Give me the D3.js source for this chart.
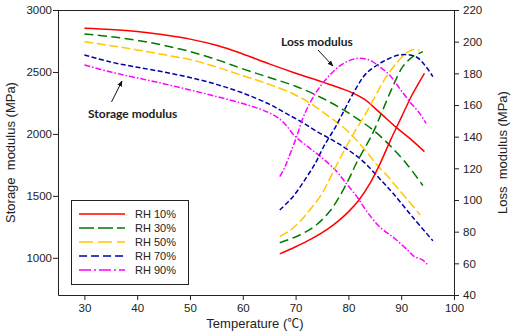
<!DOCTYPE html>
<html>
<head>
<meta charset="utf-8">
<script src="https://cdn.jsdelivr.net/npm/d3@7"></script>
<style>
  html, body { margin: 0; padding: 0; background: #fff; }
  svg { display: block; }
  .tick text { font-family: "Liberation Sans", Arial, sans-serif; font-size: 11.5px; fill: #222; }
  .axis-title { font-family: "Liberation Sans", Arial, sans-serif; font-size: 13px; fill: #222; }
  .note { font-family: Lato, "Open Sans", sans-serif; font-size: 12px; font-weight: 700; fill: #222; }
  .legend-text { font-family: "Liberation Sans", Arial, sans-serif; font-size: 11px; fill: #222; }
</style>
</head>
<body>
<script>
// Temperature axis and the two modulus axes
const xTicks = [30, 40, 50, 60, 70, 80, 90, 100];
const storageTicks = [1000, 1500, 2000, 2500, 3000];
const lossTicks = [40, 60, 80, 100, 120, 140, 160, 180, 200, 220];

const humidity = ["RH 10%", "RH 30%", "RH 50%", "RH 70%", "RH 90%"];

// Storage modulus (MPa) vs temperature (°C)
const storageRH10 = [[30,2852],[35,2842],[40,2826],[45,2800],[50,2765],[55,2715],[60,2645],[65,2565],[70,2490],[75,2420],[80,2345],[83,2280],[86,2170],[89,2055],[92,1950],[94.4,1857]];
const storageRH30 = [[30,2806],[35,2785],[40,2755],[45,2715],[50,2665],[55,2600],[60,2525],[65,2455],[70,2385],[75,2290],[80,2170],[85,2020],[88,1900],[91,1760],[94.1,1584]];
const storageRH50 = [[30,2744],[35,2712],[40,2678],[45,2640],[50,2600],[55,2540],[60,2470],[65,2400],[70,2314],[73.3,2233],[76,2150],[80,2018],[83.4,1857],[85.5,1745],[87.2,1670],[89.1,1573],[91,1479],[93.6,1346]];
const storageRH70 = [[30,2637],[35,2580],[40,2538],[45,2500],[50,2455],[55,2400],[60,2330],[65,2240],[68,2170],[71,2100],[74,2020],[77,1950],[80,1870],[83,1770],[86,1635],[88.4,1523],[92.1,1332],[96,1138]];
const storageRH90 = [[30,2556],[35,2500],[40,2452],[45,2405],[50,2355],[55,2302],[60,2245],[63,2205],[65.1,2168],[67,2120],[68.3,2065],[69.8,1985],[72.7,1884],[75.2,1800],[77.7,1700],[79.6,1600],[81.5,1500],[83.4,1380],[85.9,1251],[88.7,1158],[91.2,1063],[92.5,1010],[94.1,982],[95,942]];

// Loss modulus (MPa) vs temperature (°C)
const lossRH10 = [[67,66],[70,70.5],[73,75.5],[76,81.5],[78,86.5],[80,92.5],[82,100],[84,110],[86,123],[88,138],[90,152],[92,166],[94.4,180]];
const lossRH30 = [[67,73],[70.8,77.9],[73.9,84.2],[76.4,92.6],[78.3,102.1],[80.2,114],[81.5,123.2],[84.6,142.1],[86.5,156.8],[88.4,171.6],[90.3,184.2],[92.2,190.5],[94.1,193.7]];
const lossRH50 = [[67,77],[69,81],[71,87],[73,95],[75,104],[77,117],[79,130],[81,142],[83,153],[85,165],[87,177],[89,186],[91,193],[92.5,195],[93.5,194.5]];
const lossRH70 = [[67,93.7],[69.5,102.1],[72,114],[73.9,124.2],[75.2,133],[77.7,147],[80.2,163],[81.8,172.5],[83.4,180],[86.5,187.3],[89.7,191.6],[92.8,190.5],[94.7,184.2],[96,177.9]];
const lossRH90 = [[67,114.7],[68,121],[68.6,126],[70.2,140],[71.4,152],[73,163],[74.5,171],[76.5,179],[78.5,185],[80.5,188.5],[82,189.5],[84,188.4],[85.9,184.2],[87.8,178.9],[89.7,170.5],[91.6,162.1],[93.5,154.7],[94.7,148.4]];

const colors = ["#ff0000", "#007a00", "#ffc800", "#0000a8", "#ff00ff"];
const curveDash = [null, "9,4.5", "9,3.5", "5,2.5", "6,2,1.5,2"];
const legendDash = [null, "15,4", "14,5", "8,4", "12,3,2,3"];

const W = 512, H = 334;
const plot = { left: 58, right: 454, top: 10, bottom: 295 };

const svg = d3.select("body").append("svg").attr("width", W).attr("height", H);

const x = d3.scaleLinear().domain([25, 100]).range([plot.left, plot.right]);
const yL = d3.scaleLinear().domain([700, 3000]).range([plot.bottom, plot.top]);
const yR = d3.scaleLinear().domain([40, 220]).range([plot.bottom, plot.top]);

// Axes
const axisColor = "#222";
const fmt = d3.format("d");
function styleAxis(g) {
  g.select(".domain").attr("stroke", axisColor).attr("stroke-width", 1);
  g.selectAll(".tick line").attr("stroke", axisColor);
}

svg.append("g")
  .attr("transform", `translate(0,${plot.bottom})`)
  .call(d3.axisBottom(x).tickValues(xTicks).tickFormat(fmt).tickSize(5).tickSizeOuter(0).tickPadding(4))
  .call(styleAxis);

svg.append("g")
  .attr("transform", `translate(${plot.left},0)`)
  .call(d3.axisLeft(yL).tickValues(storageTicks).tickFormat(fmt).tickSize(5).tickSizeOuter(0).tickPadding(1))
  .call(styleAxis);

svg.append("g")
  .attr("transform", `translate(${plot.right},0)`)
  .call(d3.axisRight(yR).tickValues(lossTicks).tickFormat(fmt).tickSize(5).tickSizeOuter(0).tickPadding(4))
  .call(styleAxis);

// top frame line
svg.append("line")
  .attr("x1", plot.left).attr("x2", plot.right)
  .attr("y1", plot.top + 0.5).attr("y2", plot.top + 0.5)
  .attr("stroke", axisColor).attr("stroke-width", 1);

// Axis titles
svg.append("text").attr("class", "axis-title")
  .attr("text-anchor", "middle")
  .attr("transform", `translate(15,152.5) rotate(-90)`)
  .attr("xml:space", "preserve")
  .text("Storage  modulus (MPa)");

svg.append("text").attr("class", "axis-title")
  .attr("text-anchor", "middle")
  .attr("transform", `translate(507,152.5) rotate(-90)`)
  .attr("xml:space", "preserve")
  .text("Loss  modulus (MPa)");

const xTitle = svg.append("text").attr("class", "axis-title")
  .attr("text-anchor", "middle")
  .attr("x", 255).attr("y", 328);
xTitle.append("tspan").text("Temperature (");
xTitle.append("tspan").style("font-family", "'Noto Sans CJK SC', sans-serif").style("font-size", "12px").text("℃");
xTitle.append("tspan").text(")");

// Curves
const storageSeries = [storageRH10, storageRH30, storageRH50, storageRH70, storageRH90];
const lossSeries = [lossRH10, lossRH30, lossRH50, lossRH70, lossRH90];

const smooth = d3.curveCatmullRom.alpha(0.5);
const lineL = d3.line().x(d => x(d[0])).y(d => yL(d[1])).curve(smooth);
const lineR = d3.line().x(d => x(d[0])).y(d => yR(d[1])).curve(smooth);

const curves = svg.append("g").attr("fill", "none").attr("stroke-width", 1.5);
storageSeries.forEach((s, i) => {
  curves.append("path").attr("d", lineL(s))
    .attr("stroke", colors[i]).attr("stroke-dasharray", curveDash[i]);
});
lossSeries.forEach((s, i) => {
  curves.append("path").attr("d", lineR(s))
    .attr("stroke", colors[i]).attr("stroke-dasharray", curveDash[i]);
});

// Annotations with arrows
const defs = svg.append("defs");
defs.append("marker").attr("id", "arrowhead")
  .attr("viewBox", "0 0 10 10").attr("refX", 9).attr("refY", 5)
  .attr("markerWidth", 6).attr("markerHeight", 6)
  .attr("orient", "auto")
  .append("path").attr("d", "M0,1 L10,5 L0,9 Z").attr("fill", "#111");

svg.append("text").attr("class", "note").attr("x", 88).attr("y", 118).text("Storage modulus");
svg.append("line").attr("x1", 111.5).attr("y1", 102).attr("x2", 122).attr("y2", 81)
  .attr("stroke", "#111").attr("stroke-width", 1).attr("marker-end", "url(#arrowhead)");

svg.append("text").attr("class", "note").attr("x", 281).attr("y", 46).text("Loss modulus");
svg.append("line").attr("x1", 318).attr("y1", 50).attr("x2", 333).attr("y2", 66)
  .attr("stroke", "#111").attr("stroke-width", 1).attr("marker-end", "url(#arrowhead)");

// Legend
const legend = svg.append("g");
legend.append("rect")
  .attr("x", 71.5).attr("y", 200.5).attr("width", 117).attr("height", 84)
  .attr("fill", "#fff").attr("stroke", axisColor).attr("stroke-width", 1);
const rowY = d3.scalePoint().domain(humidity).range([214, 270]);
humidity.forEach((label, i) => {
  legend.append("line")
    .attr("x1", 79).attr("x2", 125)
    .attr("y1", rowY(label)).attr("y2", rowY(label))
    .attr("stroke", colors[i]).attr("stroke-width", 1.5)
    .attr("stroke-dasharray", legendDash[i]);
  legend.append("text").attr("class", "legend-text")
    .attr("x", 135).attr("y", rowY(label)).attr("dy", "0.35em")
    .text(label);
});
</script>
</body>
</html>
